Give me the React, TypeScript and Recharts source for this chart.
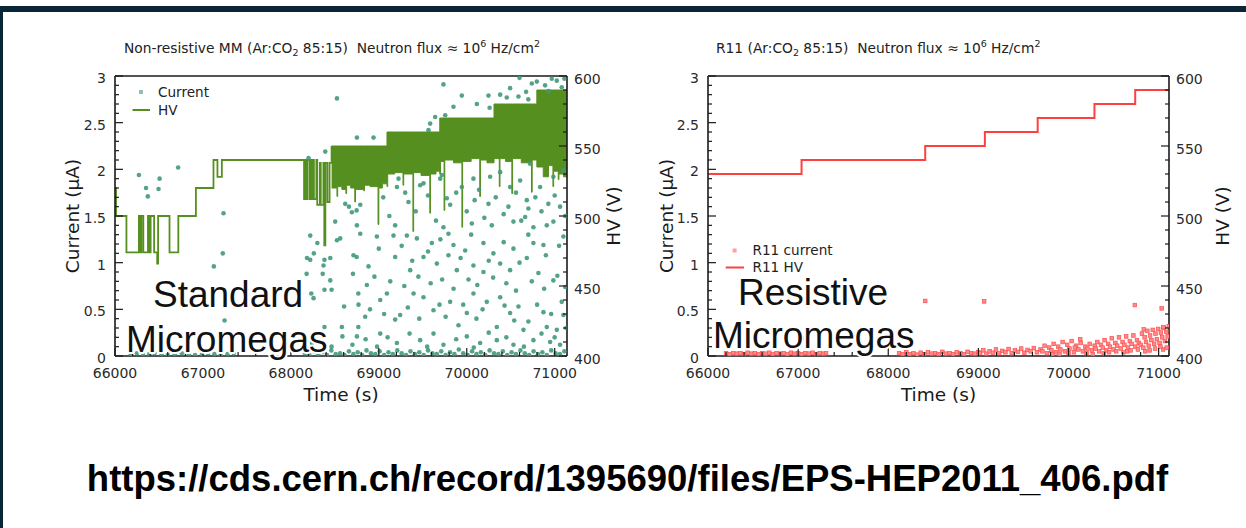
import { ComposedChart, Scatter, Line, Area, XAxis, YAxis, Legend, ReferenceLine } from 'recharts'

const FONT = '"DejaVu Sans", Verdana, sans-serif'
const BIG_FONT = '"Liberation Sans", Arial, sans-serif'
const INK = '#1a1a1a'
const FRAME = '#0a2535'
const MM_DOT = '#42997a'
const MM_HV = '#558f1f'
const R_HV = '#ff4040'

// axis labels
const timeTicks = [66000, 67000, 68000, 69000, 70000, 71000]
const currentTicks = [0, 0.5, 1, 1.5, 2, 2.5, 3]
const hvTicks = [400, 450, 500, 550, 600]

// minor ticks, 5 per major division
const timeMinor = Array.from({ length: 26 }, (_, i) => 66000 + i * 200)
const currentMinor = Array.from({ length: 31 }, (_, i) => i / 10)
const hvMinor = Array.from({ length: 21 }, (_, i) => 400 + i * 10)

// ---- left panel: non-resistive MM ----
// current readings [time s, current uA]
const mmCurrent: [number, number][] = [
  [66272, 1.94], [66353, 1.8], [66373, 1.71], [66495, 1.79], [66507, 1.9], [66718, 2.02], [67124, 0.96],
  [67226, 1.1], [67234, 1.53], [67246, 0.38], [67311, 0.21],
  [66180, 0.02], [66250, 0.03], [66320, 0.01], [66390, 0.02], [66450, 0.03], [66530, 0.02], [66600, 0.01],
  [66680, 0.02], [66760, 0.03], [66840, 0.02], [66910, 0.01], [66990, 0.02], [67060, 0.03], [67130, 0.02],
  [67200, 0.01], [67280, 0.02], [67350, 0.03],
  [68524, 2.76], [69735, 2.91], [69944, 2.79], [69849, 2.67], [70115, 2.7], [70247, 2.79], [70260, 2.66],
  [70493, 2.87], [70588, 2.78], [70675, 2.83], [70740, 2.92], [70797, 2.94], [70891, 2.9], [70967, 2.97],
  [71024, 2.95], [70600, 2.98], [70455, 2.77], [69641, 2.56], [69584, 2.49], [69565, 2.42], [69755, 2.58],
  [68751, 2.34], [68940, 2.34], [68391, 2.19], [68201, 2.12], [70380, 2.8], [70700, 2.75], [71080, 2.88],
  [70930, 2.84], [71110, 2.97],
  [69206, 1.81], [69224, 1.9], [69470, 1.83], [69508, 1.85], [69698, 1.9], [69717, 1.94], [69944, 1.81],
  [70076, 1.9], [70266, 1.92], [70380, 1.97], [70493, 1.81], [70607, 1.88], [70720, 2.06], [70834, 1.81],
  [70985, 1.92], [71099, 1.99],
  [68694, 1.54], [68789, 1.62], [68618, 1.63], [69337, 1.65], [69773, 1.69], [69811, 1.62], [70090, 1.67],
  [70247, 1.63], [70474, 1.6], [70683, 1.67], [70701, 1.58], [70928, 1.63], [71061, 1.6],
  [68751, 1.4], [68789, 1.31], [68978, 1.28], [69186, 1.4], [69319, 1.29], [69735, 1.38], [69792, 1.31],
  [70058, 1.42], [70285, 1.4], [70531, 1.44], [70664, 1.49], [70758, 1.38], [70910, 1.4], [70985, 1.44],
  [68220, 1.29], [68561, 1.26], [69167, 1.29], [69433, 1.26], [69603, 1.21], [69849, 1.19], [69982, 1.13],
  [70190, 1.21], [70303, 1.1], [70531, 1.15], [70758, 1.21], [70872, 1.19], [71099, 1.28],
  [68183, 1.05], [68371, 0.97], [68448, 1.05], [68712, 1.08], [68883, 0.96], [69186, 1.06], [69357, 0.92],
  [69508, 1.06], [69660, 0.99], [69792, 1.08], [69887, 0.92], [70076, 0.97], [70190, 0.9], [70380, 0.99],
  [70493, 0.92], [70683, 1.05], [70815, 0.89], [70985, 0.81], [68448, 0.81],
  [68258, 0.62], [68864, 0.76], [69016, 0.6], [69092, 0.67], [68769, 0.55], [68845, 0.42], [69186, 0.39],
  [69243, 0.44], [69395, 0.67], [69508, 0.63], [69622, 0.49], [69811, 0.58], [69906, 0.33], [70001, 0.46],
  [70076, 0.67], [70228, 0.58], [70342, 0.31], [70380, 0.63], [70493, 0.46], [70588, 0.53], [70645, 0.28],
  [70701, 0.37], [70872, 0.47], [70910, 0.31], [71024, 0.28], [71099, 0.44],
  [68580, 0.31], [68751, 0.21], [69016, 0.24], [69206, 0.14], [69470, 0.17], [69622, 0.24], [69735, 0.12],
  [70001, 0.21], [70152, 0.14], [70342, 0.17], [70531, 0.12], [70758, 0.17], [70948, 0.15], [71061, 0.12],
  [68261, 1.1], [68301, 1.21], [68382, 1.03], [68362, 0.88], [68382, 0.71], [68463, 0.71], [68232, 0.67],
  [68220, 1.03], [68179, 0.88], [68504, 1.44], [68660, 1.6], [68748, 1.56], [68524, 1.24], [68748, 1.06],
  [68706, 0.88], [68767, 0.67], [68605, 0.53], [68767, 0.31], [68382, 0.31], [68240, 0.14], [68463, 0.1],
  [68586, 0.21],
  [69050, 1.7], [69120, 1.5], [69300, 1.75], [69420, 1.55], [69560, 1.72], [69650, 1.45], [69880, 1.75],
  [70000, 1.55], [70140, 1.78], [70200, 1.48], [70330, 1.7], [70420, 1.52], [70560, 1.75], [70620, 1.45],
  [70780, 1.7], [70850, 1.55], [71000, 1.72], [71120, 1.5],
  [69000, 1.15], [69260, 1.18], [69380, 1.02], [69560, 1.12], [69700, 1.25], [69930, 1.05], [70050, 1.3],
  [70250, 1.02], [70420, 1.22], [70600, 1.0], [70700, 1.3], [70900, 1.08], [71050, 1.18],
  [68950, 0.85], [69130, 0.8], [69290, 0.75], [69450, 0.85], [69590, 0.78], [69720, 0.82], [69850, 0.72],
  [70020, 0.82], [70120, 0.76], [70300, 0.84], [70450, 0.78], [70560, 0.7], [70740, 0.8], [70880, 0.72],
  [71030, 0.86], [71120, 0.74],
  [68900, 0.5], [69060, 0.45], [69330, 0.52], [69460, 0.4], [69690, 0.55], [69760, 0.42], [69960, 0.55],
  [70110, 0.4], [70180, 0.5], [70430, 0.54], [70540, 0.38], [70800, 0.55], [70960, 0.45], [71080, 0.58],
  [68700, 0.12], [68850, 0.18], [68980, 0.1], [69100, 0.2], [69350, 0.24], [69550, 0.1], [69880, 0.18],
  [70080, 0.09], [70250, 0.25], [70450, 0.2], [70650, 0.1], [70850, 0.24], [71000, 0.2], [71130, 0.3],
  [68160, 0.03], [68210, 0.01], [68260, 0.05], [68310, 0.02], [68360, 0.04], [68410, 0.01], [68460, 0.06],
  [68510, 0.02], [68560, 0.03], [68610, 0.01], [68660, 0.05], [68710, 0.02], [68760, 0.04], [68810, 0.01],
  [68860, 0.06], [68910, 0.03], [68960, 0.02], [69010, 0.05], [69060, 0.01], [69110, 0.04], [69160, 0.02],
  [69210, 0.06], [69260, 0.03], [69310, 0.01], [69360, 0.05], [69410, 0.02], [69460, 0.04], [69510, 0.01],
  [69560, 0.06], [69610, 0.03], [69660, 0.02], [69710, 0.05], [69760, 0.01], [69810, 0.04], [69860, 0.02],
  [69910, 0.07], [69960, 0.03], [70010, 0.01], [70060, 0.05], [70110, 0.02], [70160, 0.04], [70210, 0.01],
  [70260, 0.06], [70310, 0.03], [70360, 0.02], [70410, 0.05], [70460, 0.01], [70510, 0.04], [70560, 0.02],
  [70610, 0.06], [70660, 0.03], [70710, 0.01], [70760, 0.05], [70810, 0.02], [70860, 0.04], [70910, 0.01],
  [70960, 0.06], [71010, 0.03], [71060, 0.02], [71110, 0.05],
]

// HV before the supply started tripping [time s, V]
const mmHvSteps: [number, number][] = [
  [66000, 520], [66012, 500], [66130, 474], [66272, 500], [66290, 474], [66300, 500], [66322, 474],
  [66375, 500], [66395, 474], [66405, 500], [66445, 474], [66480, 466], [66490, 500], [66620, 474],
  [66720, 500], [66920, 520], [67120, 540], [67165, 528], [67215, 540],
  [68150, 512], [68160, 540], [68175, 512], [68190, 540], [68215, 512], [68225, 540], [68240, 512],
  [68252, 540], [68262, 512], [68290, 540], [68300, 508], [68330, 538], [68340, 508], [68370, 538],
  [68380, 479], [68392, 538], [68415, 510], [68440, 538], [68463, 550],
]

// HV after 68450 s oscillates fast: [time s, upper V, lower V]
const mmHvBand: [number, number, number][] = [
  [68463, 550, 520], [68524, 550, 514], [68532, 550, 521], [68580, 550, 519], [68626, 550, 516],
  [68634, 550, 522], [68680, 550, 520], [68727, 550, 510], [68735, 550, 519], [68829, 550, 518],
  [68837, 550, 522], [68900, 550, 521], [68991, 550, 494], [69000, 550, 520], [69040, 550, 523],
  [69093, 560, 521], [69101, 560, 530], [69180, 560, 531], [69275, 560, 522], [69283, 560, 530],
  [69388, 560, 489], [69396, 560, 531], [69480, 560, 529], [69580, 560, 502], [69588, 560, 530],
  [69650, 560, 532], [69693, 570, 530], [69701, 570, 539], [69742, 570, 504], [69750, 570, 540],
  [69850, 570, 538], [69945, 570, 492], [69953, 570, 539], [70050, 570, 541], [70148, 570, 514],
  [70156, 570, 540], [70230, 570, 538], [70310, 580, 541], [70370, 580, 521], [70378, 580, 541],
  [70440, 580, 539], [70513, 580, 516], [70521, 580, 541], [70620, 580, 538], [70736, 580, 517],
  [70744, 580, 540], [70797, 590, 535], [70870, 590, 528], [70930, 590, 536], [70980, 590, 521],
  [70988, 590, 532], [71040, 590, 526], [71048, 590, 530], [71100, 590, 528], [71140, 590, 528],
]

// ---- right panel: resistive R11 ----
const r11Current: [number, number][] = [
  [66200, 0.03], [66240, 0.02], [66280, 0.03], [66320, 0.025], [66360, 0.03], [66400, 0.02], [66440, 0.035],
  [66480, 0.025], [66520, 0.03], [66560, 0.02], [66600, 0.03], [66640, 0.025], [66680, 0.035], [66720, 0.02],
  [66760, 0.03], [66800, 0.025], [66840, 0.03], [66880, 0.02], [66920, 0.035], [66960, 0.025], [67000, 0.03],
  [67040, 0.02], [67080, 0.03], [67120, 0.025], [67160, 0.035], [67200, 0.02], [67240, 0.03], [67280, 0.025],
  [67310, 0.03], [67040, 0.19],
  [68120, 0.03], [68160, 0.02], [68200, 0.04], [68240, 0.02], [68280, 0.03], [68320, 0.015], [68360, 0.035],
  [68400, 0.02], [68440, 0.04], [68480, 0.025], [68520, 0.03], [68560, 0.02], [68600, 0.045], [68640, 0.025],
  [68680, 0.03], [68720, 0.02], [68760, 0.04], [68800, 0.03], [68840, 0.02], [68880, 0.045], [68920, 0.03],
  [68960, 0.025], [69000, 0.04],
  [69020, 0.03], [69055, 0.06], [69090, 0.025], [69125, 0.05], [69160, 0.035], [69195, 0.07], [69230, 0.03],
  [69265, 0.055], [69300, 0.04], [69335, 0.075], [69370, 0.03], [69405, 0.06], [69440, 0.045], [69475, 0.08],
  [69510, 0.035], [69545, 0.065], [69580, 0.05], [69615, 0.085], [69650, 0.04], [69690, 0.07],
  [69710, 0.05], [69735, 0.11], [69760, 0.03], [69785, 0.09], [69810, 0.06], [69835, 0.13], [69860, 0.04],
  [69885, 0.1], [69910, 0.07], [69935, 0.15], [69960, 0.05], [69985, 0.12], [70010, 0.08], [70035, 0.16],
  [70060, 0.04], [70085, 0.11], [70110, 0.07], [70135, 0.14], [70160, 0.05], [70185, 0.1], [70210, 0.08],
  [70235, 0.13], [70260, 0.06], [70290, 0.11],
  [70300, 0.08], [70320, 0.15], [70340, 0.05], [70360, 0.12], [70380, 0.09], [70400, 0.17], [70420, 0.06],
  [70440, 0.13], [70460, 0.1], [70480, 0.19], [70500, 0.07], [70520, 0.14], [70540, 0.11], [70560, 0.2],
  [70580, 0.08], [70600, 0.15], [70620, 0.12], [70640, 0.21], [70660, 0.09], [70680, 0.16], [70700, 0.13],
  [70720, 0.22], [70740, 0.1], [70760, 0.17], [70780, 0.14],
  [70800, 0.12], [70815, 0.24], [70830, 0.09], [70845, 0.2], [70860, 0.15], [70875, 0.27], [70890, 0.11],
  [70905, 0.22], [70920, 0.17], [70935, 0.28], [70950, 0.13], [70965, 0.24], [70980, 0.18], [70995, 0.29],
  [71010, 0.14], [71025, 0.25], [71040, 0.2], [71055, 0.3], [71070, 0.16], [71085, 0.26], [71100, 0.21],
  [71112, 0.32],
  [69900, 0.02], [70000, 0.03], [70200, 0.03], [70450, 0.04], [70650, 0.05], [70900, 0.06], [71050, 0.07],
  [69820, 0.02], [70070, 0.09], [70270, 0.02], [70390, 0.03], [70530, 0.05], [70610, 0.04], [70690, 0.06],
  [70770, 0.07], [70850, 0.05], [70960, 0.08], [71020, 0.1], [71090, 0.09],
  [68410, 0.59], [69064, 0.585], [70736, 0.546], [71034, 0.51], [70130, 0.18], [70835, 0.285], [71053, 0.31],
]

const r11Hv: [number, number][] = [
  [66000, 530], [67038, 540], [68410, 550], [69072, 560], [69658, 570], [70288, 580], [70740, 590], [71115, 590],
]

const GAP = 10

const bottomTick = (p: any) => {
  const { x, y, payload } = p
  const base = y - GAP
  const major = timeTicks.includes(payload.value)
  return (
    <g>
      <line x1={x} x2={x} y1={base} y2={base - (major ? 8 : 4)} stroke={INK} strokeWidth={1.2} />
      {major && (
        <text x={x} y={base + 22} textAnchor="middle" fontSize={14} fontFamily={FONT} fill="#2a2a2a">
          {payload.value}
        </text>
      )}
    </g>
  )
}

const leftTick = (p: any) => {
  const { x, y, payload } = p
  const base = x + GAP
  const major = currentTicks.includes(payload.value)
  return (
    <g>
      <line x1={base} x2={base + (major ? 8 : 4)} y1={y} y2={y} stroke={INK} strokeWidth={1.2} />
      {major && (
        <text x={base - 9} y={y + 7} textAnchor="end" fontSize={14} fontFamily={FONT} fill="#2a2a2a">
          {payload.value}
        </text>
      )}
    </g>
  )
}

const rightTick = (p: any) => {
  const { x, y, payload } = p
  const base = x - GAP
  const major = hvTicks.includes(payload.value)
  return (
    <g>
      <line x1={base} x2={base - (major ? 8 : 4)} y1={y} y2={y} stroke={INK} strokeWidth={1.2} />
      {major && (
        <text x={base + 7} y={y + 7.5} textAnchor="start" fontSize={14} fontFamily={FONT} fill="#2a2a2a">
          {payload.value}
        </text>
      )}
    </g>
  )
}

const greenDot = (p: any) => <circle cx={p.cx} cy={p.cy} r={2.3} fill={MM_DOT} fillOpacity={0.9} />
const redSquare = (p: any) => (
  <rect x={p.cx - 1.8} y={p.cy - 1.8} width={3.6} height={3.6} fill="#ff8a8a" stroke="#ff4d4d" strokeWidth={0.7} />
)

const LegendRows = ({ payload, rowH, iconW, sqX, lineX1, gap }: any) => {
  const items = [...(payload || [])]
    .filter((e: any) => e.type !== 'none' && typeof e.value === 'string' && e.value !== '')
    .sort((a: any, b: any) => (a.type === 'square' ? 0 : 1) - (b.type === 'square' ? 0 : 1))
  return (
    <div style={{ fontFamily: FONT, fontSize: 13.6, color: '#222' }}>
      {items.map((e: any) => (
        <div key={e.value} style={{ display: 'flex', alignItems: 'center', height: rowH }}>
          <svg width={iconW} height={rowH} style={{ display: 'block' }}>
            {e.type === 'square' ? (
              <rect x={sqX - 2} y={rowH / 2 - 2} width={4} height={4} fill={e.color} fillOpacity={0.6} />
            ) : (
              <line x1={lineX1} x2={iconW} y1={rowH / 2} y2={rowH / 2} stroke={e.color} strokeWidth={2} />
            )}
          </svg>
          <span style={{ marginLeft: gap, whiteSpace: 'nowrap', lineHeight: `${rowH}px` }}>{e.value}</span>
        </div>
      ))}
    </div>
  )
}

const axisLine = { stroke: INK, strokeWidth: 1.6 }
const labelFont = { fontSize: 18.5, fill: INK, fontFamily: FONT }

const mmDots = mmCurrent.map(([t, i]) => ({ t, i }))
const mmLine = mmHvSteps.map(([t, v]) => ({ t, v }))
const mmBand = mmHvBand.map(([t, hi, lo]) => ({ t, hi, lo }))
const rDots = r11Current.map(([t, i]) => ({ t, i }))
const rLine = r11Hv.map(([t, v]) => ({ t, v }))

export default function App() {
  return (
    <div style={{ position: 'absolute', left: 0, top: 0, width: 1246, height: 528, background: '#fff', overflow: 'hidden' }}>
      <div style={{ position: 'absolute', left: 0, top: 6, width: 1246, height: 6, background: FRAME }} />
      <div style={{ position: 'absolute', left: 0, top: 6, width: 3, height: 522, background: FRAME }} />

      <div style={{ position: 'absolute', left: 0, top: 0 }}>
        <ComposedChart width={623} height={420} margin={{ top: 76, right: 0, bottom: 0, left: 0 }}>
          <XAxis
            dataKey="t" type="number" domain={[66000, 71140]} allowDataOverflow ticks={timeMinor} interval={0}
            tick={bottomTick} tickLine={false} tickSize={0} tickMargin={GAP} axisLine={axisLine} height={64}
            label={{ value: 'Time (s)', position: 'insideBottom', offset: 19, ...labelFont }}
          />
          <YAxis
            yAxisId="cur" dataKey="i" type="number" domain={[0, 3]} allowDataOverflow ticks={currentMinor} interval={0}
            tick={leftTick} tickLine={false} tickSize={0} tickMargin={GAP} axisLine={axisLine} width={115}
            label={{ value: 'Current (μA)', angle: -90, position: 'insideLeft', offset: 72, style: { textAnchor: 'middle' }, ...labelFont }}
          />
          <YAxis
            yAxisId="hv" orientation="right" type="number" domain={[400, 600]} allowDataOverflow ticks={hvMinor} interval={0}
            tick={rightTick} tickLine={false} tickSize={0} tickMargin={GAP} axisLine={axisLine} width={56}
            label={{ value: 'HV (V)', angle: -90, position: 'insideRight', offset: 10, style: { textAnchor: 'middle' }, ...labelFont }}
          />
          <ReferenceLine yAxisId="cur" y={3} stroke={INK} strokeWidth={1.6} />
          <Scatter name="Current" data={mmDots} dataKey="i" yAxisId="cur" fill={MM_DOT} shape={greenDot} legendType="square" isAnimationActive={false} />
          <Area
            data={mmBand} dataKey={(d: any) => [d.lo, d.hi]} yAxisId="hv" type="stepAfter" stroke={MM_HV} strokeWidth={1}
            fill={MM_HV} fillOpacity={1} legendType="none" dot={false} activeDot={false} isAnimationActive={false}
          />
          <Line
            name="HV" data={mmLine} dataKey="v" yAxisId="hv" type="stepAfter" stroke={MM_HV} strokeWidth={1.8}
            dot={false} activeDot={false} legendType="plainline" isAnimationActive={false}
          />
          <Legend
            layout="vertical" align="center" verticalAlign="middle"
            wrapperStyle={{ left: 128, top: 83, width: 'auto' }}
            content={(props: any) => <LegendRows {...props} rowH={18} iconW={22} sqX={13} lineX1={4.5} gap={8} />}
          />
        </ComposedChart>
      </div>

      <div style={{ position: 'absolute', left: 623, top: 0 }}>
        <ComposedChart width={623} height={420} margin={{ top: 76, right: 0, bottom: 0, left: 0 }}>
          <XAxis
            dataKey="t" type="number" domain={[66000, 71115]} allowDataOverflow ticks={timeMinor} interval={0}
            tick={bottomTick} tickLine={false} tickSize={0} tickMargin={GAP} axisLine={axisLine} height={64}
            label={{ value: 'Time (s)', position: 'insideBottom', offset: 19, ...labelFont }}
          />
          <YAxis
            yAxisId="cur" dataKey="i" type="number" domain={[0, 3]} allowDataOverflow ticks={currentMinor} interval={0}
            tick={leftTick} tickLine={false} tickSize={0} tickMargin={GAP} axisLine={axisLine} width={85}
            label={{ value: 'Current (μA)', angle: -90, position: 'insideLeft', offset: 43, style: { textAnchor: 'middle' }, ...labelFont }}
          />
          <YAxis
            yAxisId="hv" orientation="right" type="number" domain={[400, 600]} allowDataOverflow ticks={hvMinor} interval={0}
            tick={rightTick} tickLine={false} tickSize={0} tickMargin={GAP} axisLine={axisLine} width={77}
            label={{ value: 'HV (V)', angle: -90, position: 'insideRight', offset: 24, style: { textAnchor: 'middle' }, ...labelFont }}
          />
          <ReferenceLine yAxisId="cur" y={3} stroke={INK} strokeWidth={1.6} />
          <Scatter name="R11 current" data={rDots} dataKey="i" yAxisId="cur" fill="#ff6060" shape={redSquare} legendType="square" isAnimationActive={false} />
          <Line
            name="R11 HV" data={rLine} dataKey="v" yAxisId="hv" type="stepAfter" stroke={R_HV} strokeWidth={2}
            dot={false} activeDot={false} legendType="plainline" isAnimationActive={false}
          />
          <Legend
            layout="vertical" align="center" verticalAlign="middle"
            wrapperStyle={{ left: 100, top: 242, width: 'auto' }}
            content={(props: any) => <LegendRows {...props} rowH={17} iconW={21} sqX={11.6} lineX1={2.7} gap={8.5} />}
          />
        </ComposedChart>
      </div>

      <svg width={1246} height={528} style={{ position: 'absolute', left: 0, top: 0, pointerEvents: 'none' }}>
        <text x={124} y={53} fontSize={13.8} fontFamily={FONT} fill="#222" style={{ whiteSpace: 'pre' }}>
          Non-resistive MM (Ar:CO<tspan fontSize={9.5} dy={3}>2</tspan>
          <tspan dy={-3}> 85:15)  Neutron flux ≈ 10</tspan>
          <tspan fontSize={9.5} dy={-6}>6</tspan>
          <tspan dy={6}> Hz/cm</tspan>
          <tspan fontSize={9.5} dy={-6}>2</tspan>
        </text>
        <text x={716} y={53} fontSize={13.8} fontFamily={FONT} fill="#222" style={{ whiteSpace: 'pre' }}>
          R11 (Ar:CO<tspan fontSize={9.5} dy={3}>2</tspan>
          <tspan dy={-3}> 85:15)  Neutron flux ≈ 10</tspan>
          <tspan fontSize={9.5} dy={-6}>6</tspan>
          <tspan dy={6}> Hz/cm</tspan>
          <tspan fontSize={9.5} dy={-6}>2</tspan>
        </text>

        <g fontFamily={BIG_FONT} fontSize={37} fill="#111" stroke="#fff" strokeWidth={4} strokeLinejoin="round" style={{ paintOrder: 'stroke' }}>
          <text x={153} y={307}>Standard</text>
          <text x={126} y={352}>Micromegas</text>
          <text x={738} y={305}>Resistive</text>
          <text x={713} y={348}>Micromegas</text>
        </g>

        <text x={627.5} y={491} textAnchor="middle" fontSize={36.5} fontWeight="bold" fontFamily={BIG_FONT} fill="#000">
          https://cds.cern.ch/record/1395690/files/EPS-HEP2011_406.pdf
        </text>
      </svg>
    </div>
  )
}
